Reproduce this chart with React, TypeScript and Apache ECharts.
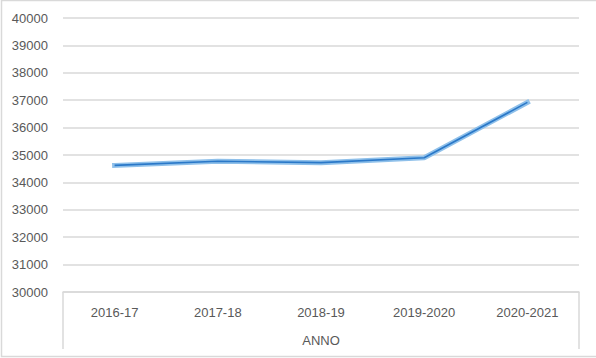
import React, { useEffect, useRef } from "react";
import * as echarts from "echarts";

const categories = ["2016-17", "2017-18", "2018-19", "2019-2020", "2020-2021"];
const values = [34620, 34770, 34720, 34900, 36920];
const yMin = 30000;
const yMax = 40000;
const yStep = 1000;
const axisName = "ANNO";

export default function App() {
  const ref = useRef<HTMLDivElement>(null);
  useEffect(() => {
    document.body.style.margin = "0";
    const chart = echarts.init(ref.current!, null, { renderer: "svg" });
    const textColor = "#595959";
    const font = "Liberation Sans";
    chart.setOption({
      animation: false,
      backgroundColor: "#ffffff",
      grid: { left: 63, right: 17, top: 18, bottom: 66, containLabel: false },
      xAxis: {
        type: "category",
        data: categories,
        boundaryGap: true,
        axisLine: { show: true, lineStyle: { color: "#d9d9d9", width: 1.5 } },
        axisTick: { show: false },
        axisLabel: { color: textColor, fontFamily: font, fontSize: 13, margin: 14 },
        name: axisName,
        nameLocation: "middle",
        nameGap: 42,
        nameTextStyle: { color: textColor, fontFamily: font, fontSize: 13 },
        splitLine: { show: false },
      },
      yAxis: {
        type: "value",
        min: yMin,
        max: yMax,
        interval: yStep,
        axisLine: { show: false },
        axisTick: { show: false },
        axisLabel: {
          color: textColor,
          fontFamily: font,
          fontSize: 13,
          margin: 15,
          formatter: (v: number) => String(v),
        },
        splitLine: { show: true, lineStyle: { color: "#d9d9d9", width: 1.5 } },
      },
      series: [
        {
          type: "line",
          data: values,
          symbol: "none",
          lineStyle: { color: "#8fc0ea", width: 5, cap: "square" },
          z: 2,
        },
        {
          type: "line",
          data: values,
          symbol: "none",
          lineStyle: { color: "#2a78c8", width: 1.6 },
          z: 3,
        },
      ],
      graphic: [
        {
          type: "rect",
          shape: { x: 1.5, y: 0.5, width: 620, height: 356 },
          style: { fill: "none", stroke: "#d9d9d9", lineWidth: 1.5 },
          silent: true,
          z: -1,
        },
        {
          type: "line",
          shape: { x1: 63, y1: 292, x2: 63, y2: 349 },
          style: { stroke: "#d9d9d9", lineWidth: 1.5 },
        },
        {
          type: "line",
          shape: { x1: 579, y1: 292, x2: 579, y2: 349 },
          style: { stroke: "#d9d9d9", lineWidth: 1.5 },
        },
      ],
    });
    return () => chart.dispose();
  }, []);
  return <div ref={ref} style={{ width: 596, height: 358 }} />;
}
